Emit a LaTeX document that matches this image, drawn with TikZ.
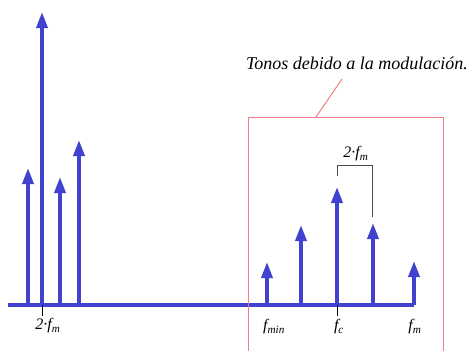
\documentclass[tikz,border=0pt]{standalone}
\usepackage{fontspec}
\setmainfont{Liberation Serif}
\usetikzlibrary{arrows.meta}
\definecolor{lineablue}{RGB}{66,66,208}
\definecolor{cajarosa}{RGB}{240,125,135}
\tikzset{
  tono/.style={lineablue,line width=3.5pt,-{Triangle[length=16pt,width=11pt]}},
  marca/.style={black,line width=0.7pt},
  etiq/.style={font=\fontsize{16}{18}\selectfont\itshape}
}
\begin{document}
\begin{tikzpicture}[x=1pt,y=-1pt]
            \useasboundingbox (0,0) rectangle (468,351);
            % eje de frecuencias
            \coordinate (ini) at (8,305);
            \coordinate (fin) at (414,305);
            \draw[lineablue,line width=3.5pt] (ini) -- (fin);
            \foreach \x/\y in {28/168,42/12,60/177,79/140,267/262,301/225,337/187,373/223,414/261} {
                \coordinate (b\x) at (\x,305);
                \coordinate (t\x) at (\x,\y);
                \draw[tono] (b\x) -- (t\x);
            }
            \draw[marca] (b42) -- ++(0,11);
            \draw[marca] (b337) -- ++(0,11);
            \node[etiq] (dosfm) at (48,326) {2·f\textsubscript{m}};
            \node[etiq] (fmin) at (274,327) {f\textsubscript{min}};
            \node[etiq] (fc) at (339,327) {f\textsubscript{c}};
            \node[etiq] (fm) at (415,327) {f\textsubscript{m}};
            % zona de modulacion
            \draw[cajarosa,line width=1pt] (248,351) -- (248,117) -- (443,117) -- (443,351);
            \node[font=\fontsize{18}{21}\selectfont\itshape] (tonos) at (357,63) {Tonos debido a la modulación.};
            \coordinate (caja) at (316,117);
            \coordinate (punta) at (342,79);
            \draw[cajarosa,line width=1pt] (caja) -- (punta);
            % separacion
            \draw[gray!60!black,line width=0.8pt] (337,176) -- (337,165) -- (372,165) -- (372,217);
            \node[etiq] (sep) at (356,154) {2·f\textsubscript{m}};
\end{tikzpicture}
\end{document}
